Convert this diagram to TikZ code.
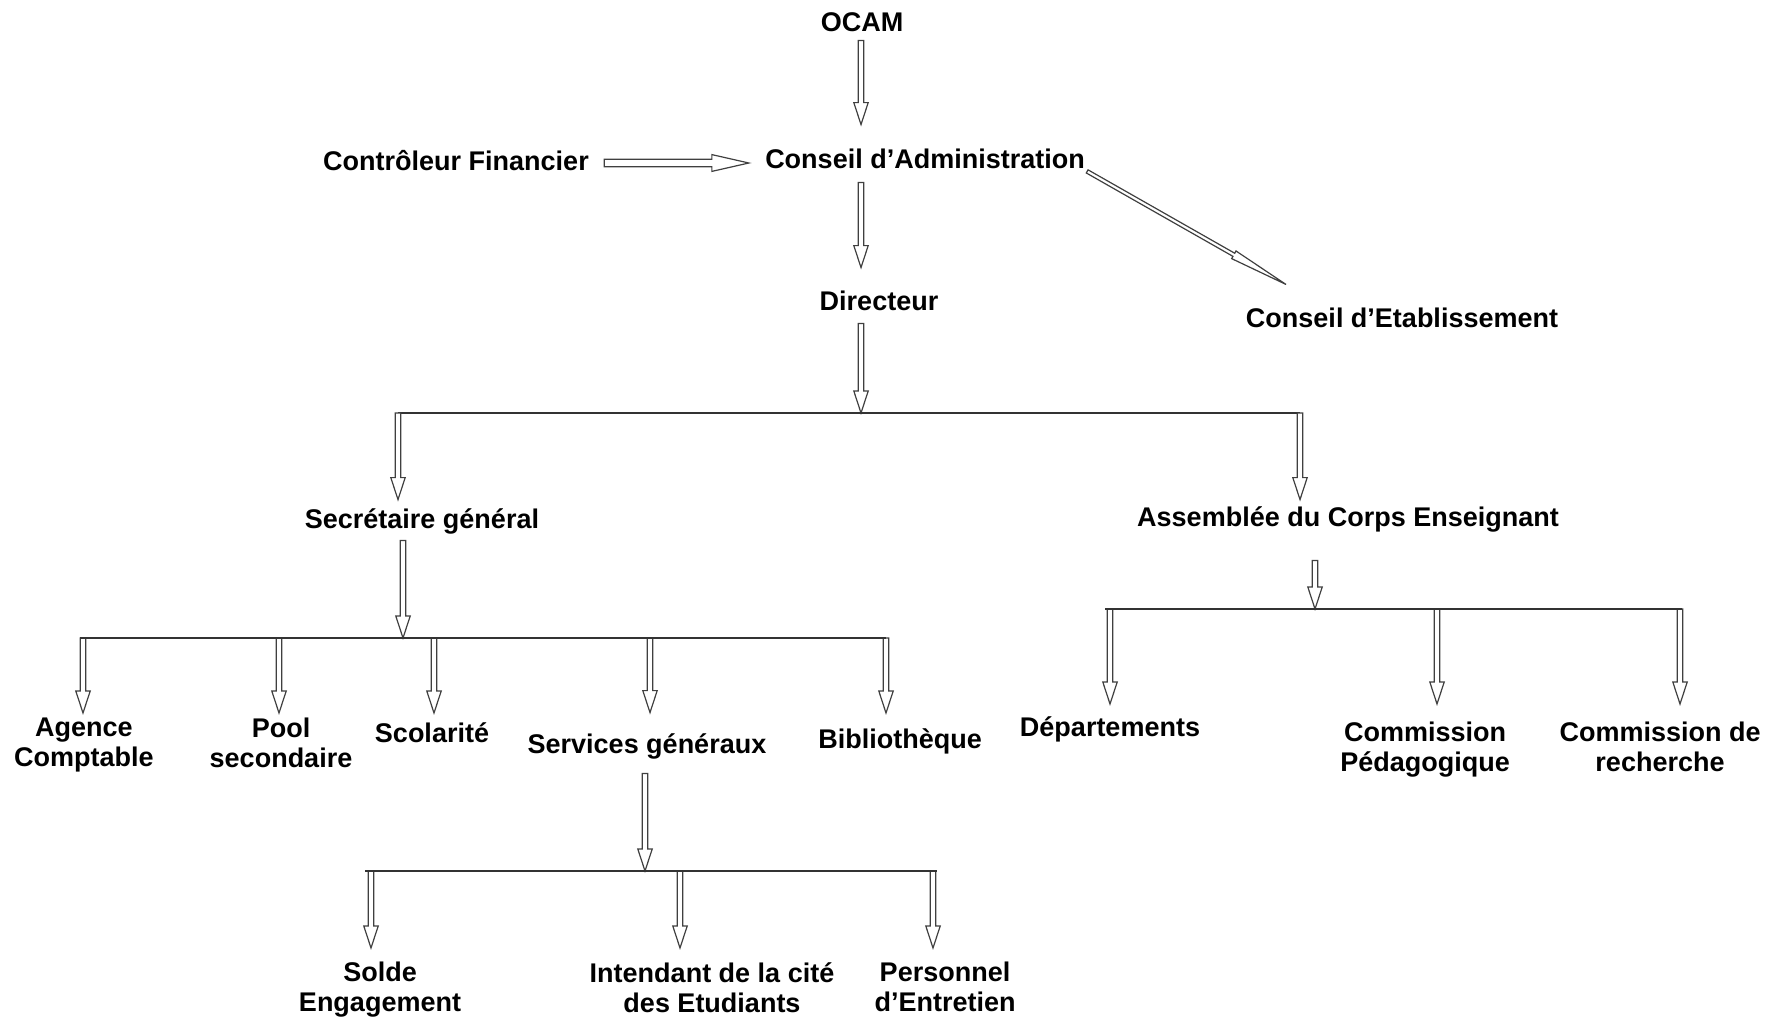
\documentclass[tikz,border=0pt]{standalone}
\usepackage{fontspec}
\setmainfont{Liberation Sans}
\usetikzlibrary{calc}

\tikzset{
  lbl/.style={font=\fontsize{13.5}{15}\selectfont\bfseries, inner sep=0pt,
    anchor=base, text height=10pt, text depth=3pt},
  leaf/.style={font=\fontsize{13.5}{15}\selectfont\bfseries, inner xsep=0pt,
    anchor=north, align=center},
  bar/.style={draw=black!80, line width=1pt},
  % hollow block arrow: shaft half width, head half width, head length
  harrow/.style n args={3}{draw=black!75, line width=0.6pt, fill=white,
    to path={let \p1=(\tikztostart), \p2=(\tikztotarget),
      \n1={atan2(\y2-\y1,\x2-\x1)}, \n2={veclen(\x2-\x1,\y2-\y1)-#3} in
      [shift={(\p1)}, rotate=\n1]
      (0,-#1) -- (\n2,-#1) -- (\n2,-#2) -- (\n2+#3,0)
      -- (\n2,#2) -- (\n2,#1) -- (0,#1) -- cycle}},
  hollow/.style={harrow={1.4pt}{3.6pt}{11pt}},
}

\begin{document}
\begin{tikzpicture}[x=0.5pt, y=-0.5pt]
  \useasboundingbox (0,0) rectangle (1780,1017);

  % top of the chart
  \node[lbl, text depth=4pt] (ocam) at (862,32) {OCAM};
  \node[lbl, inner xsep=8pt, text height=21.5pt, text depth=7pt] (ca) at (925,168) {Conseil d’Administration};
  \node[lbl, inner xsep=7.5pt] (cf) at (456,170) {Contrôleur Financier};
  \node[lbl, text height=21pt, text depth=6.5pt] (dir) at (879,310) {Directeur};
  \node[lbl, text height=21pt] (ce) at (1402,327) {Conseil d’Etablissement};

  \coordinate (spine) at (861,413);
  \draw[hollow] (ocam.south -| spine) to (spine |- ca.north);
  \draw[hollow] (ca.south -| spine) to (spine |- dir.north);
  \draw[hollow] (dir.south -| spine) to (spine);
  \draw[harrow={1.9pt}{4.2pt}{18.5pt}] (cf.east) to (cf.east -| ca.west);
  \draw[harrow={0.9pt}{2.2pt}{30pt}] ([xshift=-7pt,yshift=5.5pt]ca.south east)
    to ($(ce.north)!0.74!(ce.north west)$);

  % second level
  \coordinate (j-sg) at (398,413);
  \coordinate (j-ace) at (1300,413);
  \draw[bar] (j-sg) -- (j-ace);
  \node[lbl, text height=14pt, text depth=6pt] (sg) at (422,528) {Secrétaire général};
  \node[lbl, text height=13pt, text depth=17pt] (ace) at (1348,526) {Assemblée du Corps Enseignant};
  \draw[hollow] (j-sg) to (j-sg |- sg.north);
  \draw[hollow] (j-ace) to (j-ace |- ace.north);

  % services of the secretary
  \coordinate (sgbar) at (403,638);
  \draw[hollow] (sg.south -| sgbar) to (sgbar);
  \node[leaf, inner ysep=2.5pt] (agence) at (84,713) {Agence\\Comptable};
  \node[leaf, inner ysep=2.5pt] (pool) at (281,713) {Pool\\secondaire};
  \node[leaf, inner ysep=4.5pt] (scol) at (432,713) {Scolarité};
  \node[lbl, text height=20pt, text depth=10pt] (sgen) at (647,753) {Services généraux};
  \node[leaf, inner ysep=7.5pt] (bib) at (900,713) {Bibliothèque};
  \foreach \nm/\x in {agence/83, pool/279, scol/434, sgen/650, bib/886} {
    \coordinate (j-\nm) at (\x,638);
    \draw[hollow] (j-\nm) to (j-\nm |- \nm.north);
  }
  \draw[bar] ([xshift=-1.5pt]j-agence) -- (j-bib);

  % general services
  \coordinate (sgenbar) at (645,871);
  \draw[hollow] (sgen.south -| sgenbar) to (sgenbar);
  \node[leaf, inner ysep=7pt] (solde) at (380,948) {Solde\\Engagement};
  \node[leaf, inner ysep=7pt] (intend) at (712,948) {Intendant de la cité\\des Etudiants};
  \node[leaf, inner ysep=7pt] (perso) at (945,948) {Personnel\\d’Entretien};
  \foreach \nm/\x in {solde/371, intend/680, perso/933} {
    \coordinate (j-\nm) at (\x,871);
    \draw[hollow] (j-\nm) to (j-\nm |- \nm.north);
  }
  \draw[bar] ([xshift=-3pt]j-solde) -- ([xshift=2pt]j-perso);

  % teaching staff
  \coordinate (acebar) at (1315,609);
  \draw[hollow] (ace.south -| acebar) to (acebar);
  \node[leaf, inner ysep=6pt] (dept) at (1110,704) {Départements};
  \node[leaf, inner ysep=9pt] (cped) at (1425,704) {Commission\\Pédagogique};
  \node[leaf, inner ysep=9pt] (crech) at (1660,704) {Commission de\\recherche};
  \foreach \nm/\x in {dept/1110, cped/1437, crech/1680} {
    \coordinate (j-\nm) at (\x,609);
    \draw[hollow] (j-\nm) to (j-\nm |- \nm.north);
  }
  \draw[bar] ([xshift=-2.5pt]j-dept) -- ([xshift=1pt]j-crech);
\end{tikzpicture}
\end{document}
